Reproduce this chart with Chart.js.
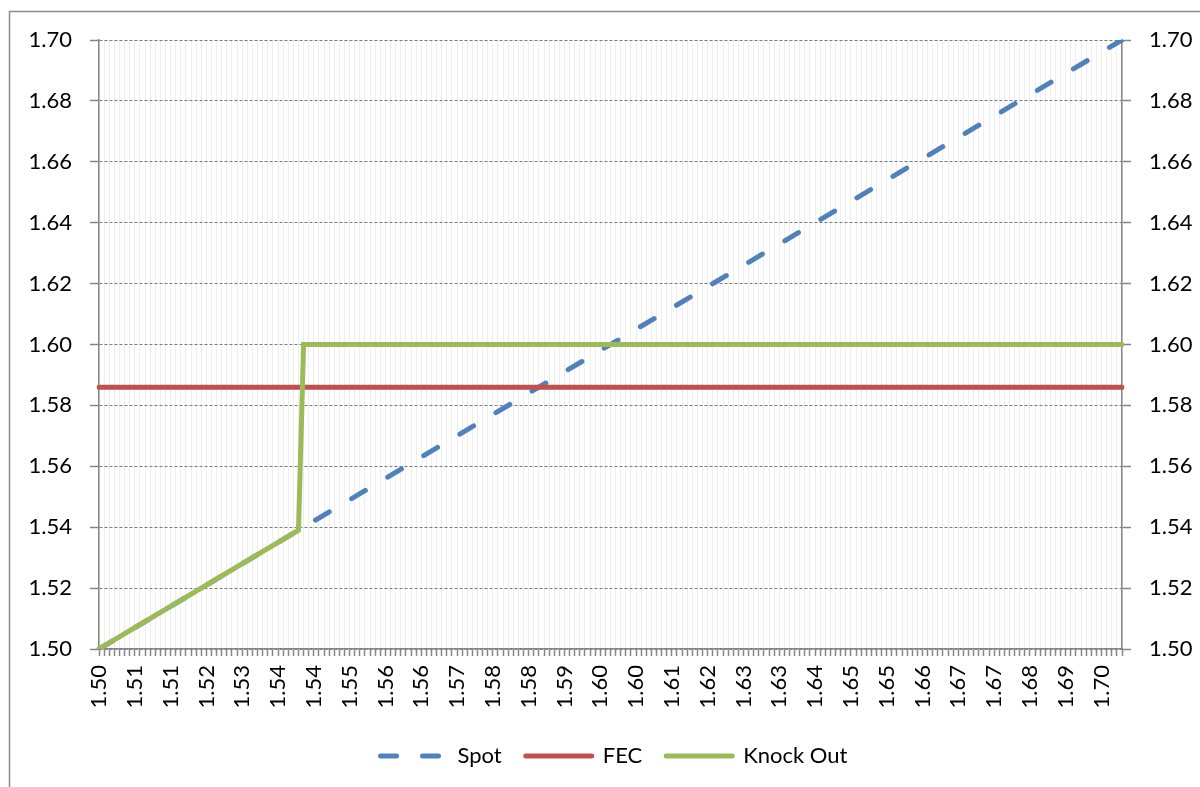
<!DOCTYPE html>
<html>
<head>
<meta charset="utf-8">
<script src="https://cdn.jsdelivr.net/npm/chart.js@4/dist/chart.umd.min.js"></script>
<style>
  html, body { margin: 0; padding: 0; background: #ffffff; }
  #wrap { width: 1200px; height: 787px; position: relative; }
</style>
</head>
<body>
<div id="wrap"><canvas id="c" width="1200" height="787"></canvas></div>
<script>
// Categories (spot rates, step 0.001)
const categories = [
'1.500','1.501','1.502','1.503','1.504','1.505','1.506','1.507','1.508','1.509',
'1.510','1.511','1.512','1.513','1.514','1.515','1.516','1.517','1.518','1.519',
'1.520','1.521','1.522','1.523','1.524','1.525','1.526','1.527','1.528','1.529',
'1.530','1.531','1.532','1.533','1.534','1.535','1.536','1.537','1.538','1.539',
'1.540','1.541','1.542','1.543','1.544','1.545','1.546','1.547','1.548','1.549',
'1.550','1.551','1.552','1.553','1.554','1.555','1.556','1.557','1.558','1.559',
'1.560','1.561','1.562','1.563','1.564','1.565','1.566','1.567','1.568','1.569',
'1.570','1.571','1.572','1.573','1.574','1.575','1.576','1.577','1.578','1.579',
'1.580','1.581','1.582','1.583','1.584','1.585','1.586','1.587','1.588','1.589',
'1.590','1.591','1.592','1.593','1.594','1.595','1.596','1.597','1.598','1.599',
'1.600','1.601','1.602','1.603','1.604','1.605','1.606','1.607','1.608','1.609',
'1.610','1.611','1.612','1.613','1.614','1.615','1.616','1.617','1.618','1.619',
'1.620','1.621','1.622','1.623','1.624','1.625','1.626','1.627','1.628','1.629',
'1.630','1.631','1.632','1.633','1.634','1.635','1.636','1.637','1.638','1.639',
'1.640','1.641','1.642','1.643','1.644','1.645','1.646','1.647','1.648','1.649',
'1.650','1.651','1.652','1.653','1.654','1.655','1.656','1.657','1.658','1.659',
'1.660','1.661','1.662','1.663','1.664','1.665','1.666','1.667','1.668','1.669',
'1.670','1.671','1.672','1.673','1.674','1.675','1.676','1.677','1.678','1.679',
'1.680','1.681','1.682','1.683','1.684','1.685','1.686','1.687','1.688','1.689',
'1.690','1.691','1.692','1.693','1.694','1.695','1.696','1.697','1.698','1.699',
'1.700'
];

// X tick labels shown every 7th category
const xTickLabels = ['1.50','1.51','1.51','1.52','1.53','1.54','1.54','1.55','1.56','1.56',
  '1.57','1.58','1.58','1.59','1.60','1.60','1.61','1.62','1.63','1.63',
  '1.64','1.65','1.65','1.66','1.67','1.67','1.68','1.69','1.70'];
const xLabelEvery = 7;

// Series (key points; straight segments between them)
const spotX = ['1.500', '1.700'];
const spotY = [1.500, 1.700];
const fecX = ['1.500', '1.700'];
const fecY = [1.586, 1.586];
const knockOutX = ['1.500', '1.539', '1.540', '1.700'];
const knockOutY = [1.500, 1.539, 1.600, 1.600];

const seriesNames = ['Spot', 'FEC', 'Knock Out'];

const toPoints = (xs, ys) => xs.map((x, i) => ({ x: x, y: ys[i] }));

const FONT = 'Lato, "Open Sans", "Noto Sans", sans-serif';
const AXIS_GRAY = '#868686';

const borderPlugin = {
  id: 'outerBorder',
  beforeDraw(chart) {
    const ctx = chart.ctx;
    ctx.save();
    ctx.fillStyle = '#ffffff';
    ctx.fillRect(0, 0, chart.width, chart.height);
    ctx.strokeStyle = '#8c8c8c';
    ctx.lineWidth = 1.5;
    ctx.strokeRect(9.5, 11.5, 1400, 1000);
    ctx.restore();
  }
};

new Chart(document.getElementById('c'), {
  type: 'line',
  data: {
    labels: categories,
    datasets: [
      {
        label: seriesNames[0],
        data: toPoints(spotX, spotY),
        borderColor: '#4F81BD',
        backgroundColor: '#4F81BD',
        borderWidth: 5,
        borderDash: [16, 26],
        borderCapStyle: 'round',
        pointRadius: 0,
        tension: 0,
        order: 3,
        yAxisID: 'y'
      },
      {
        label: seriesNames[1],
        data: toPoints(fecX, fecY),
        borderColor: '#C0504D',
        backgroundColor: '#C0504D',
        borderWidth: 5,
        borderCapStyle: 'round',
        pointRadius: 0,
        tension: 0,
        order: 2,
        yAxisID: 'y'
      },
      {
        label: seriesNames[2],
        data: toPoints(knockOutX, knockOutY),
        borderColor: '#9BBB59',
        backgroundColor: '#9BBB59',
        borderWidth: 5,
        borderCapStyle: 'round',
        borderJoinStyle: 'miter',
        pointRadius: 0,
        tension: 0,
        order: 1,
        yAxisID: 'y'
      }
    ]
  },
  options: {
    responsive: false,
    animation: false,
    layout: { padding: { left: 28, right: 0, top: 40, bottom: 10 } },
    plugins: {
      tooltip: { enabled: false },
      legend: {
        position: 'bottom',
        labels: {
          usePointStyle: true,
          pointStyle: 'line',
          pointStyleWidth: 66,
          padding: 24,
          color: '#000000',
          font: { family: FONT, size: 22 },
          sort: (a, b) => a.datasetIndex - b.datasetIndex,
          generateLabels(chart) {
            const items = Chart.defaults.plugins.legend.labels.generateLabels(chart);
            items.forEach((it) => {
              const ds = chart.data.datasets[it.datasetIndex];
              it.lineDash = ds.borderDash || [];
              it.lineCap = 'round';
              it.lineWidth = ds.borderWidth;
              it.strokeStyle = ds.borderColor;
              it.fillStyle = ds.borderColor;
            });
            return items;
          }
        }
      }
    },
    scales: {
      x: {
        type: 'category',
        offset: false,
        afterFit(scale) { scale.height = 72; },
        grid: {
          display: true,
          color: '#eeeeee',
          lineWidth: 1,
          drawTicks: true,
          tickLength: 7,
          tickColor: AXIS_GRAY,
          tickWidth: 1.5
        },
        border: { display: true, color: AXIS_GRAY, width: 1.5 },
        ticks: {
          autoSkip: false,
          minRotation: 90,
          maxRotation: 90,
          padding: 9,
          color: '#000000',
          font: { family: FONT, size: 22 },
          callback: (val, index) => (index % xLabelEvery === 0 ? xTickLabels[index / xLabelEvery] : '')
        }
      },
      y: {
        position: 'left',
        min: 1.5,
        max: 1.7,
        afterFit(scale) { scale.width = 71; },
        grid: {
          color: '#7a7a7a',
          lineWidth: 1,
          tickLength: 9,
          tickColor: AXIS_GRAY,
          tickWidth: 1.5
        },
        border: { display: true, color: AXIS_GRAY, width: 1.5, dash: [3, 2] },
        ticks: {
          stepSize: 0.02,
          padding: 18,
          color: '#000000',
          font: { family: FONT, size: 22 },
          callback: (v) => Number(v).toFixed(2)
        }
      },
      y2: {
        position: 'right',
        min: 1.5,
        max: 1.7,
        afterFit(scale) { scale.width = 78; },
        grid: {
          drawOnChartArea: false,
          tickLength: 9,
          tickColor: AXIS_GRAY,
          tickWidth: 1.5
        },
        border: { display: true, color: AXIS_GRAY, width: 1.5 },
        ticks: {
          stepSize: 0.02,
          padding: 18,
          color: '#000000',
          font: { family: FONT, size: 22 },
          callback: (v) => Number(v).toFixed(2)
        }
      }
    }
  },
  plugins: [borderPlugin]
});
</script>
</body>
</html>
